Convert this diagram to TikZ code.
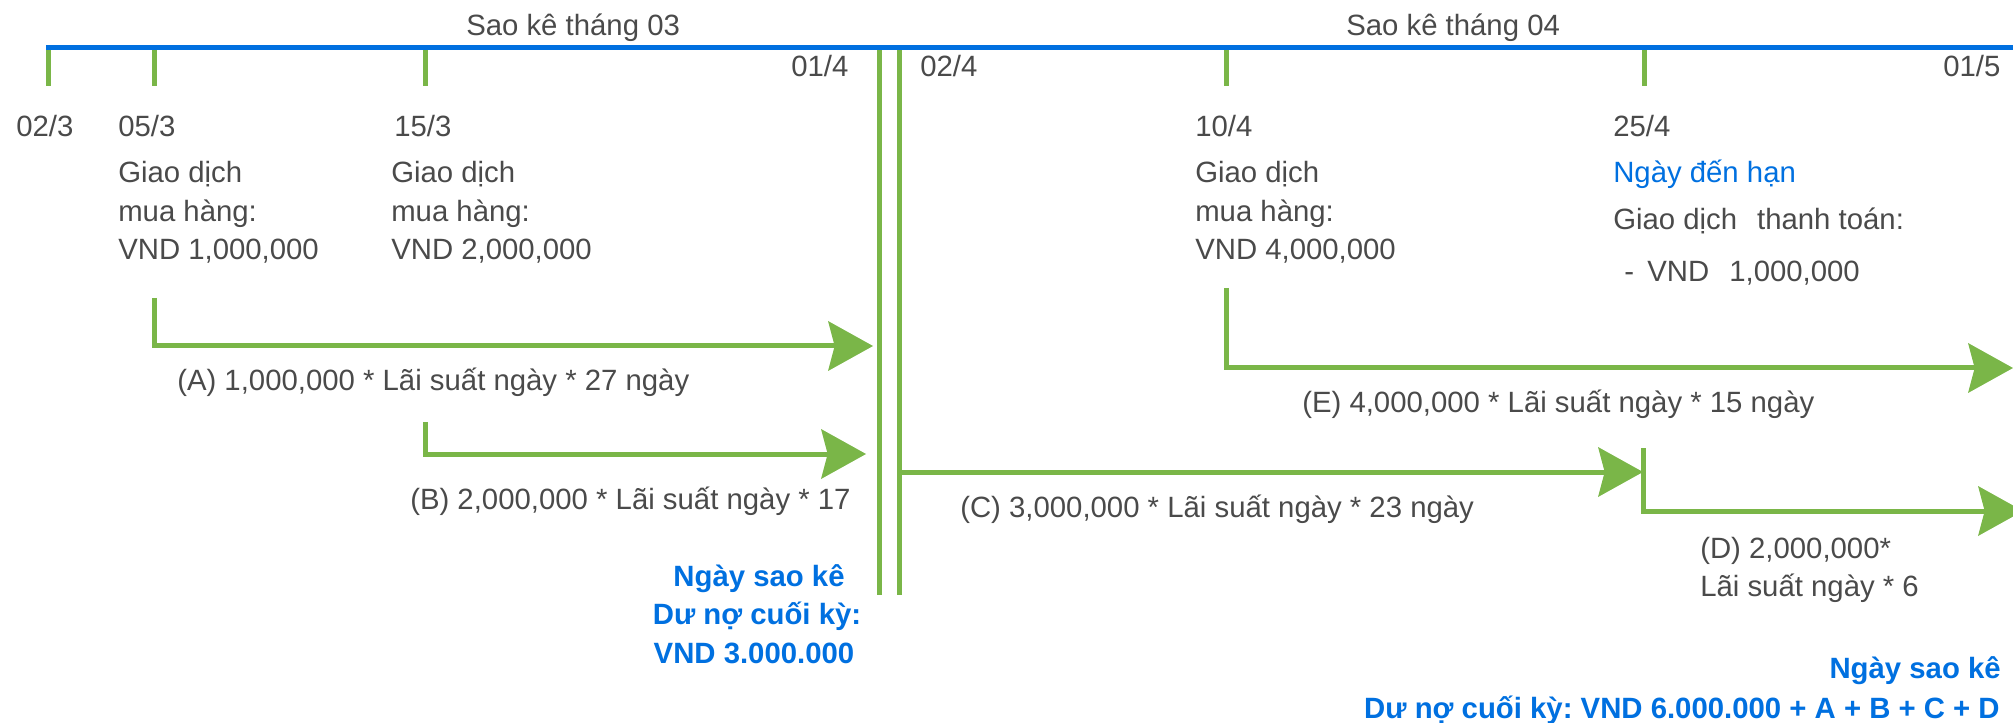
\documentclass[tikz,border=0pt]{standalone}
\usepackage{fontspec}
\setmainfont{Liberation Sans}
\usetikzlibrary{arrows.meta}

\definecolor{lineblue}{HTML}{0070E0}
\definecolor{tickgreen}{HTML}{7AB648}
\definecolor{txtgray}{HTML}{4A4A4A}

\begin{document}
\frenchspacing
\begin{tikzpicture}
	[
	x=0.75pt, y=-0.75pt,
  > = {Stealth[length=33.75pt,width=37.5pt,inset=5pt,line width=0pt]},
  every node/.style = {inner sep=0pt, font=\fontsize{22}{29}\selectfont},
  lbl/.style = {text=txtgray, anchor=base west},
  due/.style = {text=lineblue, anchor=base west},
  stmt/.style = {text=lineblue, font=\fontsize{22}{29}\selectfont\bfseries},
  tickline/.style = {draw=tickgreen, line width=3.75pt},
  flow/.style = {draw=tickgreen, line width=3.75pt, ->}
  ]
	\useasboundingbox (0,0) rectangle (2013,723);

	% timeline
	\coordinate (tl0) at (46,48);
	\coordinate (tl1) at (2013,48);
	\coordinate (s1) at (879.5,48);
	\coordinate (s1b) at (879.5,595);
	\coordinate (s2) at (899.5,48);
	\coordinate (s2b) at (899.5,595);

	\foreach \x in {48,154,425,1226,1644}
		\draw[tickline] (\x,48) -- (\x,86);
	\draw[tickline] (s1) -- (s1b);
	\draw[tickline] (s2) -- (s2b);
	\draw[draw=lineblue, line width=3.75pt] (tl0) -- (tl1);

	% interest periods
	\coordinate (a0) at (154,298);
	\coordinate (a1) at (873,346);
	\coordinate (b0) at (425,422);
	\coordinate (b1) at (866,454);
	\coordinate (c0) at (899.5,472);
	\coordinate (c1) at (1643,472);
	\coordinate (d0) at (1643,448);
	\coordinate (d1) at (2023,511);
	\coordinate (e0) at (1226,288);
	\coordinate (e1) at (2013,368);

		\draw[flow] (a0) |- (a1);
		\draw[flow] (b0) |- (b1);
		\draw[flow] (c0) -- (c1);
		\draw[flow] (d0) |- (d1);
		\draw[flow] (e0) |- (e1);

	% month labels and dates
	\node[lbl] (m03) at (466,36) {Sao kê tháng 03};
	\node[lbl] (m04) at (1346,36) {Sao kê tháng 04};
	\node[lbl] (d0104) at (791,77) {01/4};
	\node[lbl] (d0204) at (920,77) {02/4};
	\node[lbl] (d0105) at (1943,77) {01/5};
	\node[lbl] (d0203) at (16,137) {02/3};
	\node[lbl] (d0503) at (118,137) {05/3};
	\node[lbl] (d1503) at (394,137) {15/3};
	\node[lbl] (d1004) at (1195,137) {10/4};
	\node[lbl] (d2504) at (1613,137) {25/4};

	% transactions
	\node[lbl] (g1a) at (118,183) {Giao dịch};
	\node[lbl] (g1b) at (118,222) {mua hàng:};
	\node[lbl] (g1c) at (118,260) {VND 1,000,000};
	\node[lbl] (g2a) at (391,183) {Giao dịch};
	\node[lbl] (g2b) at (391,222) {mua hàng:};
	\node[lbl] (g2c) at (391,260) {VND 2,000,000};
	\node[lbl] (g3a) at (1195,183) {Giao dịch};
	\node[lbl] (g3b) at (1195,222) {mua hàng:};
	\node[lbl] (g3c) at (1195,260) {VND 4,000,000};
	\node[due] (g4a) at (1613,183) {Ngày đến hạn};
	\node[lbl] (g4b) at (1613,230) {Giao dịch\hspace{15pt}thanh toán:};
	\node[lbl] (g4c) at (1624,282) {-\hspace{10pt}VND\hspace{15pt}1,000,000};

	% interest labels
	\node[lbl] (la) at (177,391) {(A) 1,000,000 * Lãi suất ngày * 27 ngày};
	\node[lbl] (lb) at (410,509) {(B) 2,000,000 * Lãi suất ngày * 17};
	\node[lbl] (lc) at (960,517) {(C) 3,000,000 * Lãi suất ngày * 23 ngày};
	\node[lbl] (le) at (1302,412) {(E) 4,000,000 * Lãi suất ngày * 15 ngày};
	\node[lbl] (ld1) at (1700,558) {(D) 2,000,000*};
	\node[lbl] (ld2) at (1700,596) {Lãi suất ngày * 6};

	% statement balances
	\node[stmt, anchor=base] (n1a) at (759,586) {Ngày sao kê};
	\node[stmt, anchor=base] (n1b) at (757,624) {Dư nợ cuối kỳ:};
	\node[stmt, anchor=base] (n1c) at (754,663) {VND 3.000.000};
	\node[stmt, anchor=base east] (n2a) at (2001,678) {Ngày sao kê};
	\node[stmt, anchor=base east] (n2b) at (2000,718) {Dư nợ cuối kỳ: VND 6.000.000 + A + B + C + D};
	\end{tikzpicture}
\end{document}
